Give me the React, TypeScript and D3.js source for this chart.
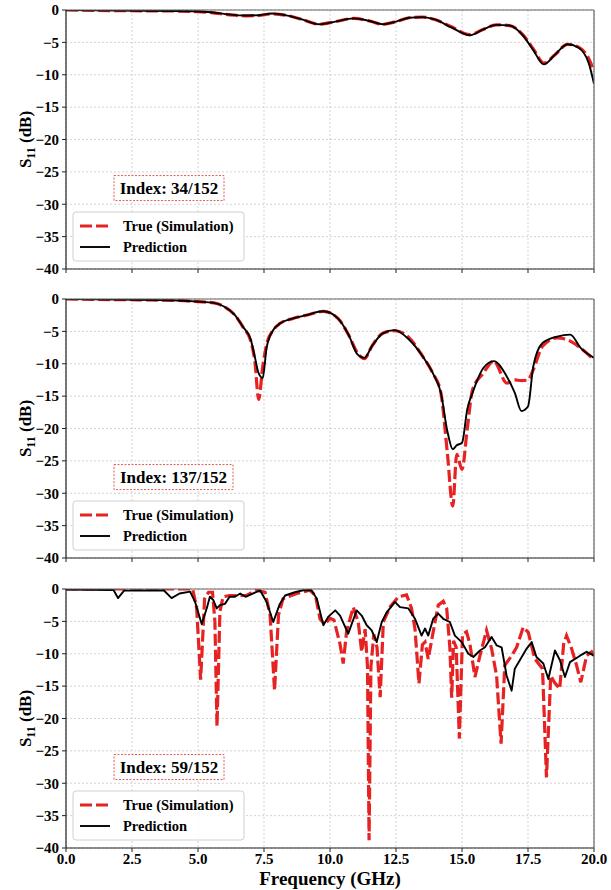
import React from "react";
import * as d3 from "d3";

// ---------- Data ----------
const xTicks = [0, 2.5, 5, 7.5, 10, 12.5, 15, 17.5, 20];
const yTicks = [0, -5, -10, -15, -20, -25, -30, -35, -40];
const indexLabels = ["Index: 34/152", "Index: 137/152", "Index: 59/152"];
const legendLabels = ["True (Simulation)", "Prediction"];

// Panel 1 (Index 34)
const p1Freq = [0, 2, 4, 4.8, 5.5, 6.2, 6.8, 7.3, 7.8, 8.3, 8.9, 9.6, 10.2, 10.9, 11.5, 12.0, 12.5, 13.0, 13.5, 14.0, 14.6, 15.3, 15.8, 16.3, 16.8, 17.3, 17.7, 18.1, 18.5, 19.0, 19.4, 19.8, 20];
const p1True = [0, -0.1, -0.15, -0.25, -0.4, -0.75, -0.9, -0.85, -0.6, -0.8, -1.4, -2.2, -1.8, -1.3, -1.7, -2.2, -1.8, -1.2, -1.1, -1.5, -2.6, -3.8, -3.0, -2.3, -2.4, -3.8, -6.0, -8.2, -7.0, -5.3, -5.7, -7.5, -9.5];
const p1Pred = [0, -0.1, -0.15, -0.2, -0.35, -0.7, -0.85, -0.8, -0.55, -0.8, -1.4, -2.2, -1.8, -1.3, -1.7, -2.2, -1.8, -1.2, -1.1, -1.5, -2.7, -3.9, -3.0, -2.3, -2.4, -3.9, -6.2, -8.4, -7.0, -5.3, -5.8, -8.2, -11.4];

// Panel 2 (Index 137)
const p2Freq = [0, 2, 4, 5.0, 5.6, 6.0, 6.4, 6.7, 7.0, 7.15, 7.3, 7.45, 7.6, 7.85, 8.1, 8.6, 9.1, 9.75, 10.3, 10.7, 11.05, 11.3, 11.6, 12.0, 12.45, 13.0, 13.5, 13.9, 14.2, 14.45, 14.65, 14.8, 15.0, 15.2, 15.4, 15.8, 16.2, 16.7, 17.0, 17.25, 17.5, 17.7, 18.05, 18.6, 19.1, 19.5, 20];
const p2True = [0, -0.1, -0.2, -0.4, -0.6, -1.2, -2.5, -4.3, -6.5, -9.5, -15.5, -10.5, -7.0, -4.8, -3.8, -3.0, -2.5, -1.9, -3.0, -5.5, -8.4, -9.2, -7.2, -5.3, -4.9, -6.0, -8.8, -11.5, -14.5, -24.0, -32.0, -24.0, -26.3, -20.0, -14.0, -11.5, -9.6, -13.0, -12.5, -12.6, -12.5, -10.9, -7.3, -6.0, -6.5, -7.6, -9.4];
const p2Pred = [0, -0.1, -0.2, -0.4, -0.6, -1.2, -2.5, -4.3, -6.3, -8.9, -11.5, -12.2, -7.5, -4.8, -3.8, -3.0, -2.5, -1.9, -3.0, -5.5, -8.6, -9.1, -7.2, -5.3, -4.8, -6.3, -8.8, -11.5, -14.5, -20.5, -23.2, -22.6, -22.2, -17.0, -14.5, -10.7, -9.6, -12.0, -14.5, -17.3, -16.6, -10.4, -6.8, -5.8, -5.5, -7.6, -9.1];

// Panel 3 (Index 59)
const p3TrueFreq = [0, 4.8, 4.95, 5.1, 5.25, 5.4, 5.55, 5.64, 5.72, 5.83, 5.95, 6.2, 6.84, 7.2, 7.54, 7.73, 7.9, 8.05, 8.22, 8.74, 9.24, 9.45, 9.62, 9.8, 10.0, 10.15, 10.38, 10.5, 10.63, 10.88, 11.07, 11.2, 11.33, 11.42, 11.48, 11.55, 11.66, 11.78, 11.9, 12.02, 12.27, 12.59, 12.9, 13.09, 13.22, 13.37, 13.5, 13.6, 13.72, 13.91, 14.1, 14.29, 14.42, 14.54, 14.61, 14.68, 14.78, 14.9, 15.02, 15.17, 15.3, 15.49, 15.68, 15.93, 16.12, 16.31, 16.48, 16.62, 16.88, 17.07, 17.32, 17.51, 17.76, 18.05, 18.2, 18.36, 18.5, 18.7, 18.85, 18.96, 19.15, 19.34, 19.5, 19.72, 19.91, 20];
const p3True = [0, 0, -3, -14, -1.5, -0.5, -0.5, -5, -21.2, -3.5, -1.2, -1.0, -1.0, -0.2, -0.5, -4, -15.7, -4, -1.5, -0.7, -0.2, -1, -4.6, -5.5, -4.5, -4.8, -8.5, -11.5, -6.5, -2.8, -5.1, -9.7, -6.2, -12, -38.8, -12, -7, -9, -16.7, -5.1, -2.8, -1.2, -0.9, -3.0, -6.2, -14.6, -8.6, -8.2, -10.8, -6.6, -2.5, -1.9, -3.0, -9, -16.8, -8, -9, -23.1, -7, -6.6, -8.5, -13.6, -10.3, -6.4, -9.2, -13.4, -23.9, -11.8, -10.3, -9.0, -5.9, -6.7, -10.8, -12.3, -29.1, -13.4, -14.4, -15.4, -8.5, -7.2, -9.2, -11.8, -14.4, -10.3, -9.7, -10.3];
const p3PredFreq = [0, 1.8, 1.97, 2.2, 3.7, 4.0, 4.3, 4.7, 4.89, 5.14, 5.33, 5.45, 5.58, 5.71, 5.83, 6.02, 6.2, 6.4, 6.6, 6.8, 7.03, 7.35, 7.6, 7.85, 8.1, 8.3, 8.67, 8.98, 9.3, 9.5, 9.75, 9.93, 10.2, 10.38, 10.69, 11.01, 11.2, 11.39, 11.58, 11.77, 11.96, 12.15, 12.46, 12.65, 12.97, 13.22, 13.47, 13.6, 13.72, 13.91, 14.1, 14.29, 14.54, 14.73, 14.99, 15.24, 15.43, 15.68, 15.87, 16.12, 16.31, 16.5, 16.69, 16.88, 17.0, 17.19, 17.45, 17.64, 17.82, 18.08, 18.27, 18.52, 18.71, 18.9, 19.09, 19.28, 19.47, 19.72, 20];
const p3Pred = [-0.1, -0.15, -1.4, -0.25, -0.2, -1.4, -0.7, -0.4, -2.0, -5.4, -3.0, -1.2, -1.7, -3.0, -2.5, -2.3, -1.2, -1.2, -0.7, -1.2, -0.8, -0.2, -2.0, -5.1, -2.3, -1.0, -0.5, -0.2, -0.2, -1.5, -5.6, -4.3, -3.3, -4.1, -6.9, -3.3, -4.1, -5.6, -6.4, -8.2, -5.1, -3.6, -2.0, -2.8, -3.0, -4.6, -7.2, -6.1, -7.2, -4.6, -3.8, -4.6, -5.1, -7.2, -8.2, -10.0, -10.5, -9.5, -9.0, -7.4, -8.7, -9.0, -13.4, -15.7, -12.3, -11.0, -9.2, -8.2, -10.5, -11.5, -13.9, -9.5, -11.0, -13.6, -11.3, -10.8, -10.3, -9.7, -10.3];

const panels = [
  { tf: p1Freq, tv: p1True, pf: p1Freq, pv: p1Pred, smooth: true },
  { tf: p2Freq, tv: p2True, pf: p2Freq, pv: p2Pred, smooth: true },
  { tf: p3TrueFreq, tv: p3True, pf: p3PredFreq, pv: p3Pred, smooth: false },
];

// ---------- Layout ----------
const W = 611;
const H = 890;
const LEFT = 66;
const RIGHT = 594;
const TOPS = [10, 299, 589];
const PH = 259;
const FONT = "'Liberation Serif', 'Times New Roman', serif";
const RED = "#e62222";

const fmtY = (v: number) => (v < 0 ? "\u2212" + Math.abs(v) : String(v));

function Panel({ idx }: { idx: number }) {
  const top = TOPS[idx];
  const p = panels[idx];
  const x = d3.scaleLinear().domain([0, 20]).range([LEFT, RIGHT]);
  const y = d3.scaleLinear().domain([0, -40]).range([top, top + PH]);
  const curve = p.smooth ? d3.curveMonotoneX : d3.curveLinear;
  const trueData = p.tf.map((f, i) => [f, p.tv[i]] as [number, number]);
  const predData = p.pf.map((f, i) => [f, p.pv[i]] as [number, number]);
  const line = d3
    .line<[number, number]>()
    .x((d) => x(d[0]))
    .y((d) => y(d[1]))
    .curve(curve);
  const clipId = `clip${idx}`;
  const showX = idx === 2;
  const boxCy = y(-27.5);
  const legTop = top + 202;
  const boxW = idx === 1 ? 119 : 110;
  return (
    <g>
      <defs>
        <clipPath id={clipId}>
          <rect x={LEFT} y={top} width={RIGHT - LEFT} height={PH} />
        </clipPath>
      </defs>
      {xTicks.map((t) => (
        <line key={"gx" + t} x1={x(t)} x2={x(t)} y1={top} y2={top + PH} stroke="#c8c8c8" strokeWidth={0.8} strokeDasharray="2,2" />
      ))}
      {yTicks.map((t) => (
        <line key={"gy" + t} x1={LEFT} x2={RIGHT} y1={y(t)} y2={y(t)} stroke="#c8c8c8" strokeWidth={0.8} strokeDasharray="2,2" />
      ))}
      <g clipPath={`url(#${clipId})`}>
        <path d={line(trueData) || ""} fill="none" stroke={RED} strokeWidth={3.2} strokeDasharray="12,4" />
        <path d={line(predData) || ""} fill="none" stroke="#000" strokeWidth={1.9} strokeLinejoin="round" />
      </g>
      <line x1={LEFT} x2={RIGHT} y1={top} y2={top} stroke="#666" strokeWidth={1.2} />
      <line x1={RIGHT} x2={RIGHT} y1={top} y2={top + PH} stroke="#666" strokeWidth={1.2} />
      <line x1={LEFT} x2={LEFT} y1={top} y2={top + PH} stroke="#222" strokeWidth={1.2} />
      <line x1={LEFT} x2={RIGHT} y1={top + PH} y2={top + PH} stroke="#222" strokeWidth={1.2} />
      {yTicks.map((t) => (
        <g key={"ty" + t}>
          <line x1={LEFT - 4} x2={LEFT} y1={y(t)} y2={y(t)} stroke="#222" strokeWidth={1} />
          <text x={LEFT - 7} y={y(t)} dy="0.35em" textAnchor="end" fontFamily={FONT} fontWeight="bold" fontSize={15}>
            {fmtY(t)}
          </text>
        </g>
      ))}
      {xTicks.map((t) => (
        <g key={"tx" + t}>
          <line x1={x(t)} x2={x(t)} y1={top + PH} y2={top + PH + 4} stroke="#222" strokeWidth={1} />
          {showX && (
            <text x={x(t)} y={top + PH + 16} textAnchor="middle" fontFamily={FONT} fontWeight="bold" fontSize={15}>
              {d3.format(".1f")(t)}
            </text>
          )}
        </g>
      ))}
      <text transform={`translate(31,${top + PH / 2}) rotate(-90)`} textAnchor="middle" fontFamily={FONT} fontWeight="bold" fontSize={17}>
        S<tspan fontSize={12} dy={4}>11</tspan>
        <tspan dy={-4}> (dB)</tspan>
      </text>
      <rect x={114} y={boxCy - 12.5} width={boxW} height={25} fill="white" stroke="#e05a5a" strokeWidth={1} strokeDasharray="2,1.5" />
      <text x={114 + boxW / 2} y={boxCy} dy="0.35em" textAnchor="middle" fontFamily={FONT} fontWeight="bold" fontSize={17}>
        {indexLabels[idx]}
      </text>
      <rect x={73} y={legTop} width={171} height={49} rx={3} fill="white" fillOpacity={0.85} stroke="#d0d0d0" strokeWidth={1} />
      <line x1={80} x2={110} y1={legTop + 14} y2={legTop + 14} stroke={RED} strokeWidth={3.2} strokeDasharray="12,4" />
      <text x={123} y={legTop + 14} dy="0.35em" fontFamily={FONT} fontWeight="bold" fontSize={14.5}>
        {legendLabels[0]}
      </text>
      <line x1={80} x2={110} y1={legTop + 35} y2={legTop + 35} stroke="#000" strokeWidth={1.9} />
      <text x={123} y={legTop + 35} dy="0.35em" fontFamily={FONT} fontWeight="bold" fontSize={14.5}>
        {legendLabels[1]}
      </text>
    </g>
  );
}

export default function App() {
  return (
    <svg width={W} height={H} style={{ position: "absolute", left: 0, top: 0, background: "white" }}>
      <rect width={W} height={H} fill="white" />
      <Panel idx={0} />
      <Panel idx={1} />
      <Panel idx={2} />
      <text x={(LEFT + RIGHT) / 2} y={885} textAnchor="middle" fontFamily={FONT} fontWeight="bold" fontSize={19}>
        Frequency (GHz)
      </text>
    </svg>
  );
}
